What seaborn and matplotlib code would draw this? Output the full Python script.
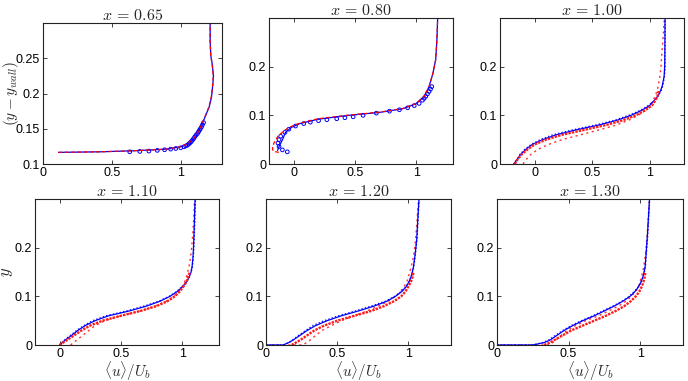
import numpy as np
import pandas as pd
import matplotlib
matplotlib.use('Agg')
import matplotlib.pyplot as plt
import seaborn as sns
from matplotlib.ticker import FuncFormatter

# ------------------------------------------------------------------------------
# profile data
stations = ['0.65', '0.80', '1.00', '1.10', '1.20', '1.30']

# x = 0.65
y_065 = [0.1165, 0.1173, 0.1188, 0.1211, 0.1244, 0.129, 0.1385, 0.1526, 0.169, 0.181,
         0.195, 0.2137, 0.225, 0.2418, 0.2535, 0.2746, 0.30]
les_065 = [0.112, 0.416, 0.659, 0.903, 1.0, 1.06, 1.109, 1.146, 1.182, 1.207,
           1.224, 1.234, 1.238, 1.229, 1.219, 1.214, 1.214]
rans_065 = [0.112, 0.416, 0.659, 0.9, 0.995, 1.055, 1.105, 1.145, 1.18, 1.205,
            1.222, 1.233, 1.237, 1.228, 1.218, 1.213, 1.213]
yexp_065 = [0.1173, 0.1178, 0.1183, 0.1193, 0.1202, 0.1211, 0.122, 0.123, 0.1244, 0.1256,
            0.1268, 0.1284, 0.13, 0.1318, 0.1338, 0.136, 0.1385, 0.141, 0.1432, 0.1455,
            0.1479, 0.15, 0.1526, 0.1555, 0.1587]
exp_065 = [0.63, 0.703, 0.769, 0.83, 0.883, 0.927, 0.964, 1.0, 1.024, 1.037,
           1.049, 1.059, 1.068, 1.077, 1.085, 1.094, 1.102, 1.112, 1.122, 1.129,
           1.136, 1.143, 1.151, 1.158, 1.166]

# x = 0.80
y_080 = [0.028, 0.035, 0.05, 0.065, 0.075, 0.083, 0.092, 0.100, 0.106, 0.1135,
         0.1237, 0.139, 0.159, 0.187, 0.2144, 0.2557, 0.30]
les_080 = [-0.13, -0.12, -0.09, -0.065, -0.02, 0.05, 0.2, 0.45, 0.7, 0.89,
           0.997, 1.065, 1.105, 1.137, 1.159, 1.169, 1.175]
yr_080 = [0.024, 0.026, 0.032, 0.043, 0.056, 0.068, 0.076, 0.084, 0.093, 0.1005,
          0.1065, 0.114, 0.124, 0.139, 0.159, 0.187, 0.2144, 0.2557, 0.30]
rans_080 = [-0.12, -0.165, -0.172, -0.16, -0.13, -0.08, -0.03, 0.05, 0.2, 0.45,
            0.7, 0.89, 0.997, 1.065, 1.105, 1.137, 1.159, 1.169, 1.175]
yexp_080 = [0.025, 0.029, 0.036, 0.043, 0.05, 0.057, 0.065, 0.0715, 0.078, 0.083,
            0.086, 0.089, 0.091, 0.093, 0.095, 0.097, 0.100, 0.1045, 0.1085, 0.1115,
            0.1155, 0.12, 0.1245, 0.131, 0.135, 0.139, 0.144, 0.149, 0.154, 0.159]
exp_080 = [-0.051, -0.091, -0.118, -0.127, -0.118, -0.105, -0.07, -0.038, 0.016, 0.083,
           0.137, 0.204, 0.272, 0.352, 0.419, 0.486, 0.567, 0.675, 0.782, 0.863,
           0.93, 0.984, 1.024, 1.051, 1.065, 1.078, 1.092, 1.105, 1.117, 1.127]

# x = 1.00 ... 1.30 share the grids below
y_a = [0.0, 0.01, 0.02, 0.03, 0.04, 0.05, 0.06, 0.07, 0.08, 0.09, 0.10,
       0.11, 0.12, 0.13, 0.14, 0.15, 0.16, 0.18, 0.20, 0.22, 0.25, 0.30]
y_b = [0.0, 0.0, 0.005, 0.01, 0.02, 0.03, 0.04, 0.05, 0.06, 0.07, 0.08, 0.09,
       0.10, 0.11, 0.12, 0.13, 0.14, 0.15, 0.16, 0.18, 0.20, 0.22, 0.25, 0.30]
y_exp = [0.0, 0.005, 0.01, 0.02, 0.03, 0.04, 0.05, 0.06, 0.07, 0.08, 0.09,
         0.10, 0.11, 0.12, 0.13, 0.14, 0.15]

les_100 = [-0.18, -0.15, -0.12, -0.075, -0.02, 0.07, 0.19, 0.36, 0.56, 0.72, 0.84,
           0.93, 1.0, 1.04, 1.075, 1.095, 1.11, 1.127, 1.132, 1.133, 1.134, 1.135]
les2_100 = [-0.18, -0.15, -0.125, -0.085, -0.03, 0.05, 0.16, 0.33, 0.53, 0.70, 0.82,
            0.92, 0.99, 1.04, 1.075, 1.10, 1.115, 1.13, 1.135, 1.135, 1.136, 1.137]
rans_100 = [-0.10, -0.07, -0.03, 0.03, 0.12, 0.24, 0.40, 0.56, 0.71, 0.82, 0.90,
            0.96, 1.0, 1.03, 1.05, 1.065, 1.075, 1.09, 1.10, 1.105, 1.115, 1.13]
exp_100 = [-0.17, -0.16, -0.145, -0.11, -0.06, 0.0, 0.10, 0.24, 0.43, 0.62, 0.77,
           0.88, 0.96, 1.02, 1.05, 1.07, 1.08]

les_110 = [0.0, 0.045, 0.10, 0.15, 0.21, 0.29, 0.40, 0.57, 0.71, 0.82, 0.90,
           0.96, 1.005, 1.037, 1.058, 1.072, 1.08, 1.088, 1.092, 1.095, 1.099, 1.105]
les2_110 = [0.0, 0.04, 0.09, 0.14, 0.20, 0.27, 0.38, 0.55, 0.69, 0.81, 0.895,
            0.955, 1.0, 1.035, 1.058, 1.073, 1.082, 1.09, 1.095, 1.098, 1.102, 1.108]
rans_110 = [0.09, 0.14, 0.19, 0.24, 0.29, 0.37, 0.50, 0.66, 0.78, 0.87, 0.93,
            0.97, 1.0, 1.02, 1.035, 1.045, 1.055, 1.068, 1.077, 1.084, 1.092, 1.10]
exp_110 = [0.0, 0.03, 0.06, 0.12, 0.18, 0.25, 0.35, 0.50, 0.66, 0.79, 0.88,
           0.94, 0.98, 1.01, 1.035, 1.05, 1.062]

les_120 = [0.0, 0.12, 0.16, 0.19, 0.24, 0.29, 0.35, 0.43, 0.53, 0.65, 0.76, 0.85,
           0.91, 0.955, 0.985, 1.005, 1.019, 1.028, 1.036, 1.045, 1.053, 1.06, 1.065, 1.075]
les2_120 = [0.0, 0.12, 0.16, 0.185, 0.23, 0.28, 0.33, 0.41, 0.51, 0.63, 0.74, 0.84,
            0.905, 0.95, 0.985, 1.005, 1.02, 1.03, 1.038, 1.047, 1.055, 1.061, 1.067, 1.076]
rans_120 = [0.0, 0.26, 0.285, 0.31, 0.35, 0.395, 0.46, 0.53, 0.62, 0.71, 0.79, 0.86,
            0.91, 0.945, 0.97, 0.99, 1.0, 1.01, 1.02, 1.035, 1.045, 1.052, 1.06, 1.072]
exp_120 = [0.18, 0.21, 0.24, 0.29, 0.34, 0.41, 0.50, 0.62, 0.74, 0.83, 0.90,
           0.95, 0.98, 1.0, 1.018, 1.03, 1.037]

les_130 = [0.0, 0.25, 0.33, 0.37, 0.42, 0.47, 0.53, 0.60, 0.68, 0.75, 0.82, 0.88,
           0.93, 0.965, 0.99, 1.008, 1.02, 1.028, 1.035, 1.04, 1.045, 1.05, 1.056, 1.066]
les2_130 = [0.0, 0.25, 0.32, 0.36, 0.41, 0.46, 0.52, 0.59, 0.67, 0.74, 0.81, 0.875,
            0.925, 0.96, 0.988, 1.006, 1.02, 1.03, 1.037, 1.042, 1.047, 1.052, 1.058, 1.067]
rans_130 = [0.0, 0.36, 0.39, 0.41, 0.45, 0.49, 0.55, 0.62, 0.71, 0.78, 0.85, 0.90,
            0.94, 0.97, 0.99, 1.0, 1.01, 1.018, 1.025, 1.035, 1.042, 1.048, 1.055, 1.065]
exp_130 = [0.33, 0.37, 0.40, 0.46, 0.52, 0.60, 0.68, 0.76, 0.83, 0.89, 0.935,
           0.97, 0.995, 1.012, 1.024, 1.032, 1.037]

x_limits = [(0, 1.3), (-0.2, 1.3), (-0.3, 1.3), (-0.2, 1.3), (0, 1.3), (0, 1.3)]

# ------------------------------------------------------------------------------
sns.set_style('ticks')
plt.rcParams['font.family'] = ['Liberation Sans', 'DejaVu Sans']
plt.rcParams['mathtext.fontset'] = 'cm'
plt.rcParams['xtick.direction'] = 'in'
plt.rcParams['ytick.direction'] = 'in'

fig = plt.figure(figsize=(6.88, 3.81), dpi=100)
W, H = 688.0, 381.0
boxes = [(43, 23, 222, 164), (269, 18, 453, 164), (500, 18, 684, 164),
         (35, 199, 219, 345), (266, 199, 451, 345), (497, 199, 683, 345)]
axes = []
for (l, t, r, b) in boxes:
    axes.append(fig.add_axes([l / W, 1 - b / H, (r - l) / W, (b - t) / H]))


def line(ax, u, y, color, ls, lw=0.9):
    sns.lineplot(x=u, y=y, sort=False, estimator=None, color=color, ax=ax, lw=lw)
    ax.lines[-1].set_linestyle(ls)


# first two stations: simulation lines + measured circles
for ax, u1, y1, u2, y2, ue, ye in [
        (axes[0], les_065, y_065, rans_065, y_065, exp_065, yexp_065),
        (axes[1], les_080, y_080, rans_080, yr_080, exp_080, yexp_080)]:
    sns.scatterplot(x=ue, y=ye, ax=ax, marker='o', s=7, facecolor='none',
                    edgecolor='#0000ff', linewidth=0.7, zorder=2)
    line(ax, u1, y1, '#0000ff', '-')
    line(ax, u2, y2, '#ff0000', (0, (3, 2)))

# remaining stations
sets = [(les_100, les2_100, rans_100, exp_100, y_a),
        (les_110, les2_110, rans_110, exp_110, y_a),
        (les_120, les2_120, rans_120, exp_120, y_b),
        (les_130, les2_130, rans_130, exp_130, y_b)]
for ax, (les, les2, rans, exp, yy) in zip(axes[2:], sets):
    line(ax, rans, yy, '#ff3030', (0, (1.5, 2.5)), lw=1.0)
    line(ax, les2, yy, '#1010ff', (0, (1, 1.5)), lw=1.0)
    line(ax, les, yy, '#0000ff', '-', lw=0.9)
    line(ax, exp, y_exp, '#ff1a1a', (0, (1, 0.5)), lw=1.7)

fmt = FuncFormatter(lambda v, p: '%g' % round(v, 3))
for i, ax in enumerate(axes):
    ax.set_xlim(*x_limits[i])
    if i == 0:
        ax.set_ylim(0.1, 0.3)
        ax.set_yticks([0.1, 0.15, 0.2, 0.25])
    else:
        ax.set_ylim(0, 0.3)
        ax.set_yticks([0, 0.1, 0.2])
    ax.set_xticks([0, 0.5, 1])
    ax.xaxis.set_major_formatter(fmt)
    ax.yaxis.set_major_formatter(fmt)
    ax.tick_params(top=True, right=True, length=3, width=0.6, labelsize=9, pad=2,
                   colors='#222222', labelcolor='black')
    for s in ax.spines.values():
        s.set_linewidth(0.8)
        s.set_color('#222222')
    ax.set_xlabel('')
    ax.set_ylabel('')
    ax.set_title(r'$x\,=\,%s$' % stations[i], fontsize=11.5, pad=2)
    if i >= 3:
        ax.set_xlabel(r'$\langle u\rangle/U_b$', fontsize=10.8, labelpad=-0.6)

axes[0].set_ylabel(r'$(y-y_{wall})$', fontsize=11)
axes[0].yaxis.set_label_coords(-0.125, 0.5)
axes[3].set_ylabel(r'$y$', fontsize=12)
axes[3].yaxis.set_label_coords(-0.11, 0.5)

fig.savefig('out.png', dpi=100)
